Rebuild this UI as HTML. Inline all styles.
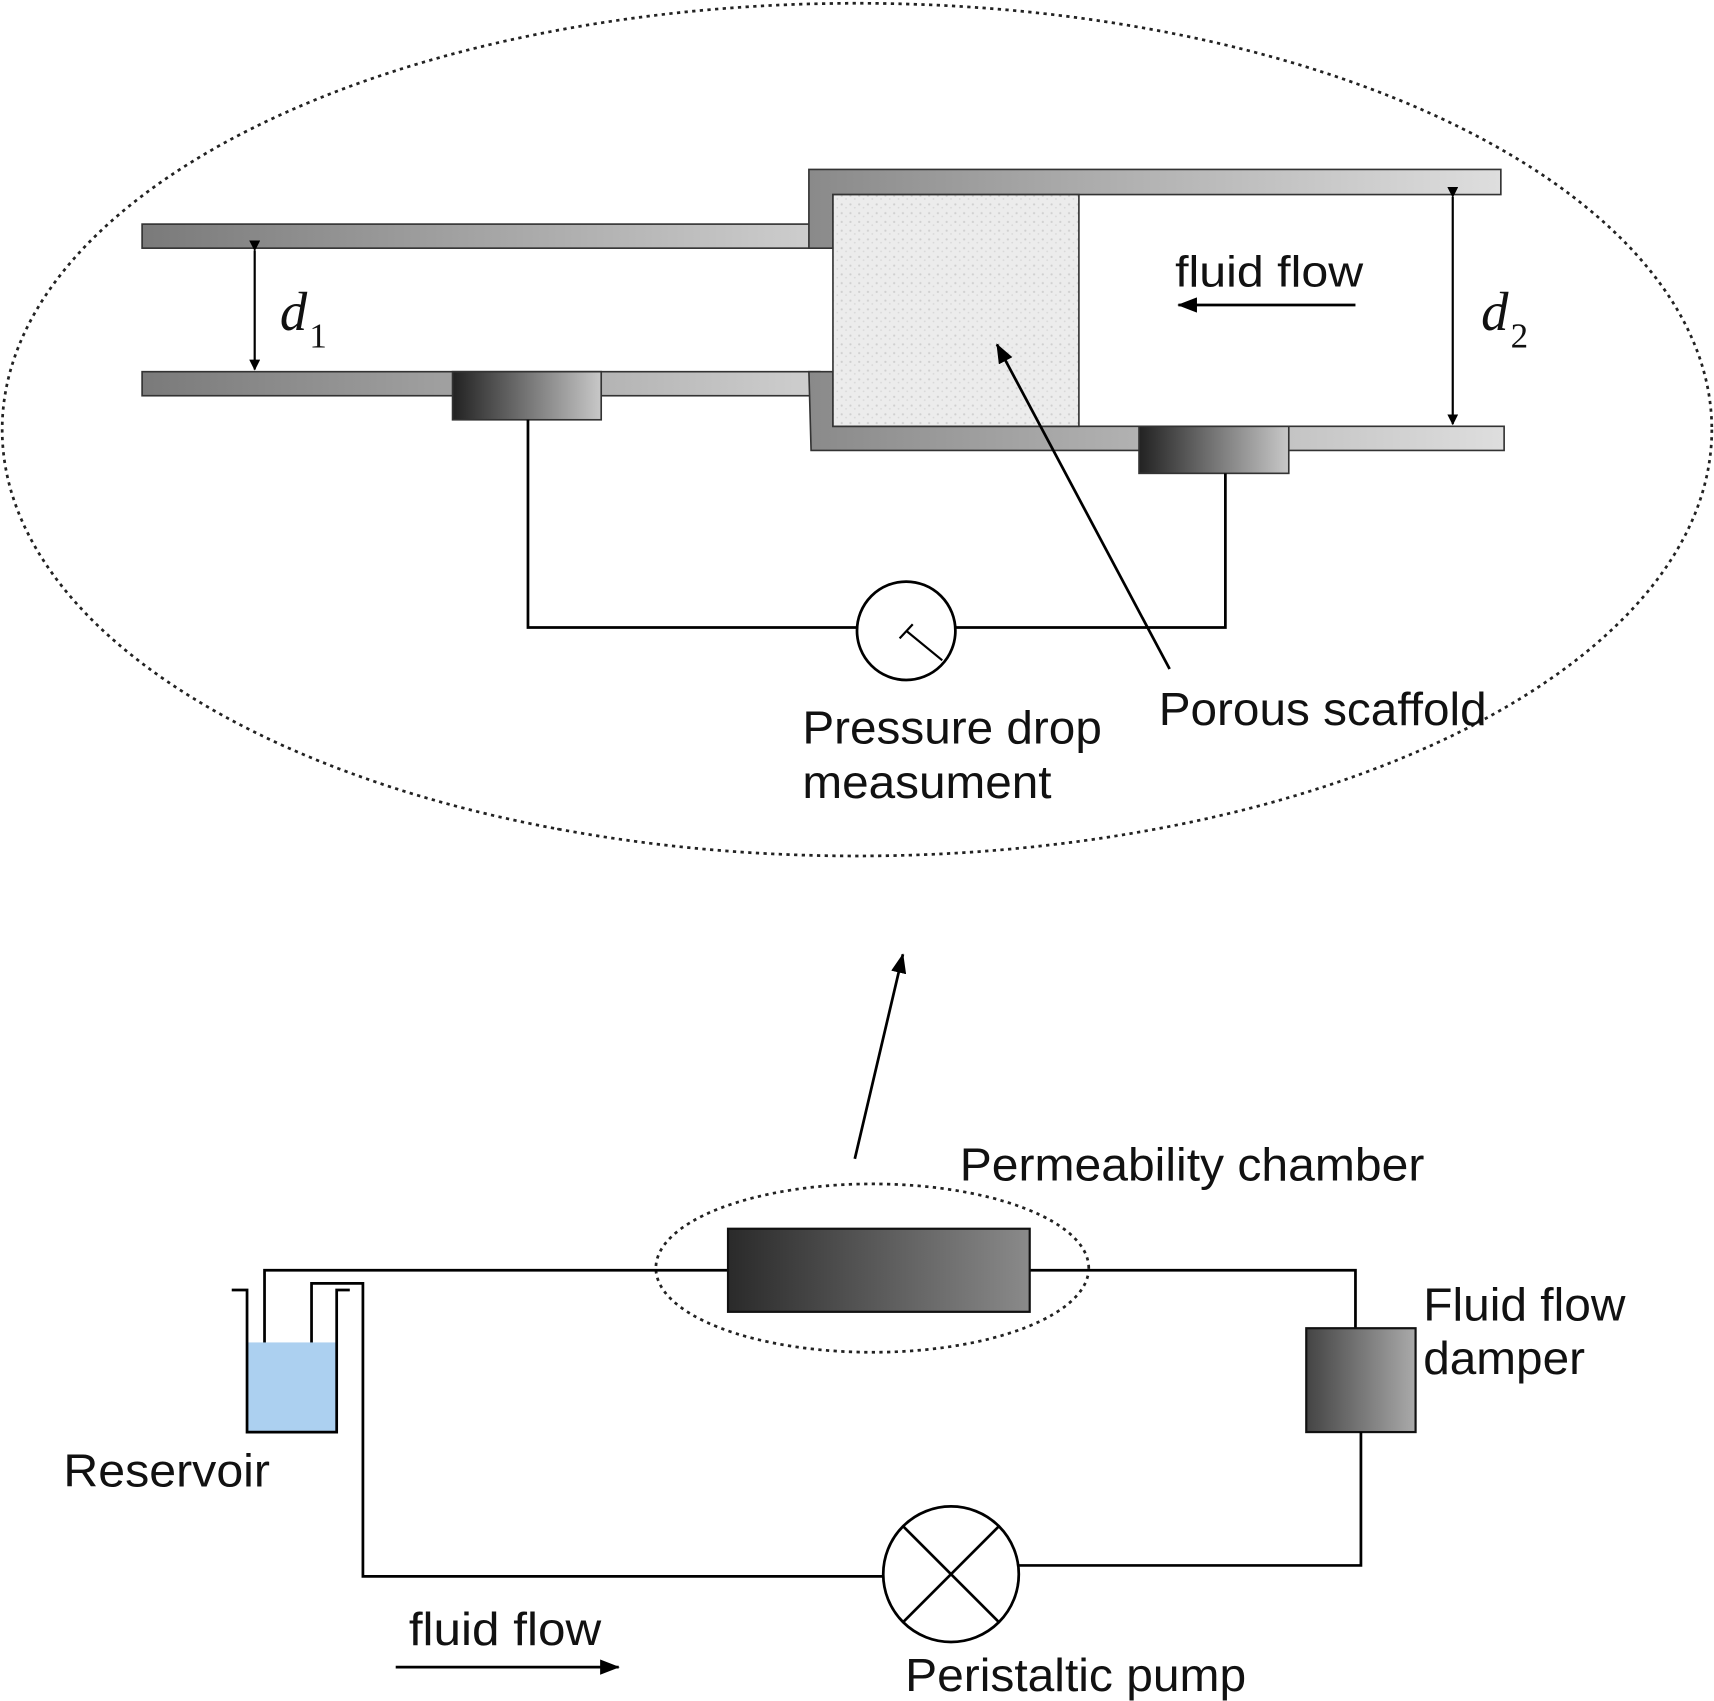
<!DOCTYPE html>
<html><head><meta charset="utf-8"><style>
html,body{margin:0;padding:0;background:#fff;}
svg{display:block;}
text{font-family:"Liberation Sans",sans-serif;fill:#111;}
</style></head><body>
<svg width="1714" height="1701" viewBox="0 0 1568 1556" preserveAspectRatio="none" xmlns="http://www.w3.org/2000/svg">
<defs>
<linearGradient id="pipe" x1="0" x2="1"><stop offset="0" stop-color="#7a7a7a"/><stop offset="1" stop-color="#cfcfcf"/></linearGradient>
<linearGradient id="pipe2" x1="0" x2="1"><stop offset="0" stop-color="#8a8a8a"/><stop offset="1" stop-color="#dedede"/></linearGradient>
<linearGradient id="sens" x1="0" x2="1"><stop offset="0" stop-color="#222"/><stop offset="1" stop-color="#c8c8c8"/></linearGradient>
<linearGradient id="cham" x1="0" x2="1"><stop offset="0" stop-color="#2a2a2a"/><stop offset="1" stop-color="#8a8a8a"/></linearGradient>
<linearGradient id="damp" x1="0" x2="1"><stop offset="0" stop-color="#444"/><stop offset="1" stop-color="#aaa"/></linearGradient>
<pattern id="tex" width="8" height="8" patternUnits="userSpaceOnUse"><rect width="8" height="8" fill="#ececec"/><circle cx="2" cy="3" r="1" fill="#cfcfcf"/><circle cx="6" cy="6" r="0.8" fill="#d8d8d8"/></pattern>
<marker id="ah" markerWidth="10" markerHeight="10" refX="9" refY="5" orient="auto" markerUnits="userSpaceOnUse"><path d="M0,0 L10,5 L0,10 Z" fill="#000"/></marker>
<marker id="ah2" markerWidth="18" markerHeight="14" refX="17" refY="7" orient="auto" markerUnits="userSpaceOnUse"><path d="M0,0 L18,7 L0,14 Z" fill="#000"/></marker>
</defs>
<ellipse cx="784" cy="393" rx="782" ry="390" fill="none" stroke="#222" stroke-width="2.5" stroke-dasharray="3,4"/>
<rect x="130" y="205" width="625" height="22" fill="url(#pipe)" stroke="#333" stroke-width="1.5"/>
<rect x="130" y="340" width="620" height="22" fill="url(#pipe)" stroke="#333" stroke-width="1.5"/>
<path d="M740,227 L740,155 L1373,155 L1373,178 L762,178 L762,227 Z" fill="url(#pipe2)" stroke="#333" stroke-width="1.5"/>
<path d="M740,340 L762,340 L762,390 L1376,390 L1376,412 L742,412 Z" fill="url(#pipe2)" stroke="#333" stroke-width="1.5"/>
<rect x="762" y="178" width="225" height="212" fill="url(#tex)" stroke="#333" stroke-width="1.5"/>
<rect x="414" y="340" width="136" height="44" fill="url(#sens)" stroke="#333" stroke-width="1.5"/>
<rect x="1042" y="390" width="137" height="43" fill="url(#sens)" stroke="#333" stroke-width="1.5"/>
<path d="M483,384 L483,574 L784,574 M874,574 L1121,574 L1121,433" fill="none" stroke="#000" stroke-width="2.5"/>
<circle cx="829" cy="577" r="45" fill="#fff" stroke="#000" stroke-width="2.5"/>
<line x1="829" y1="577" x2="862" y2="604" stroke="#000" stroke-width="2"/>
<line x1="823" y1="584" x2="835" y2="571" stroke="#000" stroke-width="2"/>
<line x1="233" y1="229" x2="233" y2="338" stroke="#000" stroke-width="2" marker-start="url(#ah)" marker-end="url(#ah)"/>
<line x1="1329" y1="180" x2="1329" y2="388" stroke="#000" stroke-width="2" marker-start="url(#ah)" marker-end="url(#ah)"/>
<text x="256" y="302" style="font-family:'Liberation Serif',serif;font-style:italic;font-size:50px">d</text><text x="283" y="318" style="font-family:'Liberation Serif',serif;font-size:32px">1</text>
<text x="1355" y="302" style="font-family:'Liberation Serif',serif;font-style:italic;font-size:50px">d</text><text x="1382" y="318" style="font-family:'Liberation Serif',serif;font-size:32px">2</text>
<text x="1075" y="262" font-size="40" textLength="172" lengthAdjust="spacingAndGlyphs">fluid flow</text>
<line x1="1240" y1="279" x2="1078" y2="279" stroke="#000" stroke-width="2.5" marker-end="url(#ah2)"/>
<line x1="1070" y1="612" x2="912" y2="315" stroke="#000" stroke-width="2.5" marker-end="url(#ah2)"/>
<text x="1060" y="663" font-size="42" textLength="300" lengthAdjust="spacingAndGlyphs">Porous scaffold</text>
<text x="734" y="680" font-size="42" textLength="274" lengthAdjust="spacingAndGlyphs">Pressure drop</text>
<text x="734" y="730" font-size="42" textLength="228" lengthAdjust="spacingAndGlyphs">measument</text>
<line x1="782" y1="1060" x2="826" y2="873" stroke="#000" stroke-width="2.5" marker-end="url(#ah2)"/>
<text x="878" y="1080" font-size="42" textLength="425" lengthAdjust="spacingAndGlyphs">Permeability chamber</text>
<ellipse cx="798" cy="1160" rx="198" ry="77" fill="none" stroke="#222" stroke-width="2.5" stroke-dasharray="3,4"/>
<path d="M242,1235 L242,1162 L666,1162 M942,1162 L1240,1162 L1240,1215" fill="none" stroke="#000" stroke-width="2.5"/>
<rect x="666" y="1124" width="276" height="76" fill="url(#cham)" stroke="#111" stroke-width="2"/>
<rect x="1195" y="1215" width="100" height="95" fill="url(#damp)" stroke="#111" stroke-width="2"/>
<text x="1302" y="1208" font-size="42" textLength="185" lengthAdjust="spacingAndGlyphs">Fluid flow</text>
<text x="1302" y="1257" font-size="42" textLength="148" lengthAdjust="spacingAndGlyphs">damper</text>
<path d="M1245,1310 L1245,1432 L932,1432 M808,1442 L332,1442 L332,1174 L285,1174 L285,1255" fill="none" stroke="#000" stroke-width="2.5"/>
<circle cx="870" cy="1440" r="62" fill="#fff" stroke="#000" stroke-width="2.5"/>
<path d="M826,1396 L914,1484 M914,1396 L826,1484" stroke="#000" stroke-width="2.5"/>
<rect x="226" y="1228" width="82" height="82" fill="#acd0f0"/>
<path d="M212,1180 L226,1180 L226,1310 L308,1310 L308,1180 L320,1180" fill="none" stroke="#000" stroke-width="2.5"/>
<text x="58" y="1360" font-size="42" textLength="189" lengthAdjust="spacingAndGlyphs">Reservoir</text>
<text x="374" y="1505" font-size="42" textLength="176" lengthAdjust="spacingAndGlyphs">fluid flow</text>
<line x1="362" y1="1525" x2="566" y2="1525" stroke="#000" stroke-width="2.5" marker-end="url(#ah2)"/>
<text x="828" y="1547" font-size="42" textLength="312" lengthAdjust="spacingAndGlyphs">Peristaltic pump</text>
</svg>
</body></html>
